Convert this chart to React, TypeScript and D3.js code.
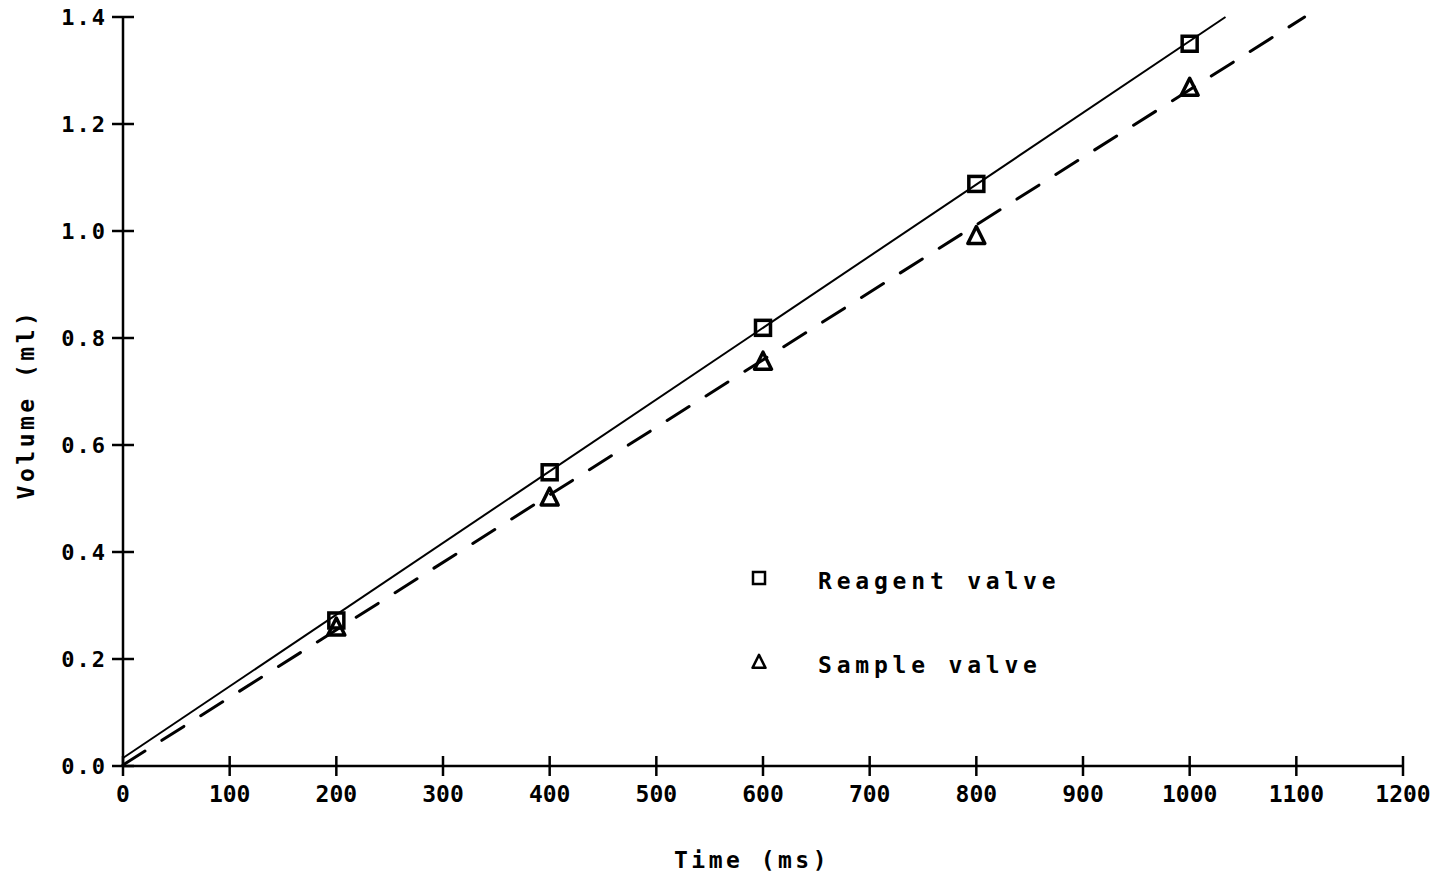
import React from "react";
import * as d3 from "d3";

const times = [200, 400, 600, 800, 1000];
const reagentVolumes = [0.272, 0.549, 0.819, 1.088, 1.350];
const sampleVolumes = [0.259, 0.502, 0.756, 0.991, 1.268];
const reagentFit = [0.015, 0.00134]; // intercept, slope
const sampleFit = [0.002, 0.001262];
const xTicks = [0, 100, 200, 300, 400, 500, 600, 700, 800, 900, 1000, 1100, 1200];
const yTicks = [0, 0.2, 0.4, 0.6, 0.8, 1.0, 1.2, 1.4];
const legendLabels = ["Reagent valve", "Sample valve"];

const W = 1438;
const H = 878;
const X0 = 123, X1 = 1403, Y0 = 766, Y1 = 17;

export default function App() {
  const x = d3.scaleLinear().domain([0, 1200]).range([X0, X1]);
  const y = d3.scaleLinear().domain([0, 1.4]).range([Y0, Y1]);
  const fitLine = (fit: number[]) => {
    const xEnd = (1.4 - fit[0]) / fit[1];
    const pts: [number, number][] = [
      [0, fit[0]],
      [xEnd, 1.4],
    ];
    return d3
      .line<[number, number]>()
      .x((d) => x(d[0]))
      .y((d) => y(d[1]))(pts) as string;
  };
  const tickFont = "'DejaVu Sans Mono', monospace";
  const textFont = "'DejaVu Sans Mono', monospace";
  const sq = 15;
  const tri = (cx: number, cy: number, s: number) =>
    `M${cx},${cy - s * 0.55} L${cx + s / 2},${cy + s * 0.45} L${cx - s / 2},${cy + s * 0.45} Z`;

  return (
    <svg
      width={W}
      height={H}
      style={{ position: "absolute", left: 0, top: 0, background: "#fff" }}
    >
      <rect x={0} y={0} width={W} height={H} fill="#fff" />
      {/* axes */}
      <line x1={X0} y1={Y1} x2={X0} y2={Y0} stroke="#000" strokeWidth={2.5} />
      <line x1={X0} y1={Y0} x2={X1} y2={Y0} stroke="#000" strokeWidth={2.5} />
      {yTicks.map((t) => (
        <g key={"y" + t}>
          <line x1={X0 - 11} x2={X0 + 11} y1={y(t)} y2={y(t)} stroke="#000" strokeWidth={2.5} />
          <text
            x={X0 - 16}
            y={y(t) + 8}
            textAnchor="end"
            fontFamily={tickFont}
            fontWeight="bold"
            fontSize={22}
            letterSpacing={2}
          >
            {t.toFixed(1)}
          </text>
        </g>
      ))}
      {xTicks.map((t) => (
        <g key={"x" + t}>
          <line x1={x(t)} x2={x(t)} y1={Y0 - 10} y2={Y0 + 10} stroke="#000" strokeWidth={2.5} />
          <text
            x={x(t)}
            y={802}
            textAnchor="middle"
            fontFamily={tickFont}
            fontWeight="bold"
            fontSize={23}
          >
            {t}
          </text>
        </g>
      ))}
      {/* axis titles */}
      <text
        x={752}
        y={868}
        textAnchor="middle"
        fontFamily={textFont}
        fontWeight="bold"
        fontSize={23}
        letterSpacing={3.5}
      >
        Time (ms)
      </text>
      <text
        transform={`translate(34,404) rotate(-90)`}
        textAnchor="middle"
        fontFamily={textFont}
        fontWeight="bold"
        fontSize={23}
        letterSpacing={3.5}
      >
        Volume (ml)
      </text>
      {/* fit lines */}
      <path d={fitLine(reagentFit)} fill="none" stroke="#000" strokeWidth={2} />
      <path
        d={fitLine(sampleFit)}
        fill="none"
        stroke="#000"
        strokeWidth={3}
        strokeDasharray="26 20"
        strokeLinecap="round"
      />
      {/* markers */}
      {times.map((t, i) => (
        <rect
          key={"r" + t}
          x={x(t) - sq / 2}
          y={y(reagentVolumes[i]) - sq / 2}
          width={sq}
          height={sq}
          fill="none"
          stroke="#000"
          strokeWidth={3.5}
        />
      ))}
      {times.map((t, i) => (
        <path
          key={"s" + t}
          d={tri(x(t), y(sampleVolumes[i]), 17)}
          fill="none"
          stroke="#000"
          strokeWidth={3.5}
          strokeLinejoin="round"
        />
      ))}
      {/* legend */}
      <rect x={753} y={572} width={12} height={12} fill="none" stroke="#000" strokeWidth={2.5} />
      <path d={tri(759, 662, 13)} fill="none" stroke="#000" strokeWidth={2.5} strokeLinejoin="round" />
      <text
        x={818}
        y={589}
        fontFamily={textFont}
        fontWeight="bold"
        fontSize={23}
        letterSpacing={4.8}
      >
        {legendLabels[0]}
      </text>
      <text
        x={818}
        y={673}
        fontFamily={textFont}
        fontWeight="bold"
        fontSize={23}
        letterSpacing={4.8}
      >
        {legendLabels[1]}
      </text>
    </svg>
  );
}
